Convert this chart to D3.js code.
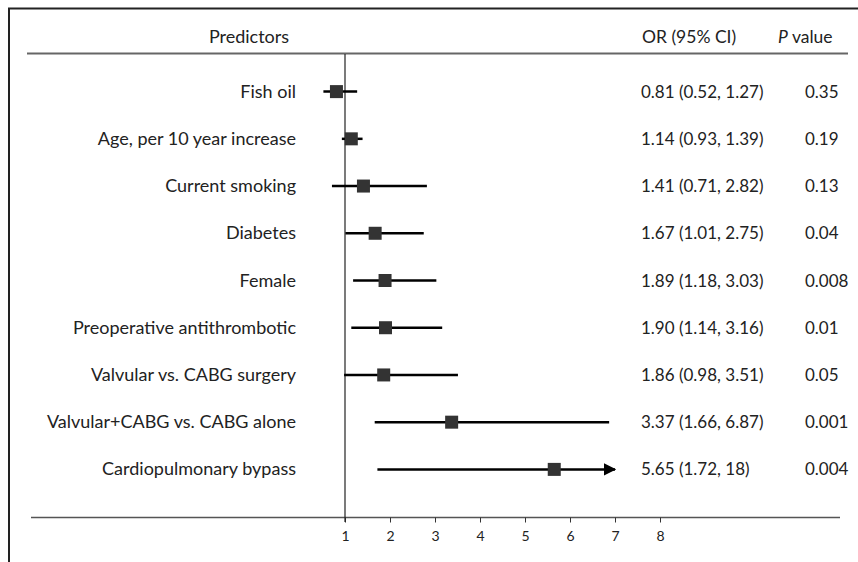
<!DOCTYPE html>
<html>
<head>
<meta charset="utf-8">
<script src="https://cdn.jsdelivr.net/npm/d3@7"></script>
<style>
  body { margin: 0; background: #fff; }
  text { font-family: Lato, "Open Sans", sans-serif; fill: #222; }
</style>
</head>
<body>
<script>
// data
var predictors = ["Fish oil", "Age, per 10 year increase", "Current smoking", "Diabetes", "Female",
  "Preoperative antithrombotic", "Valvular vs. CABG surgery", "Valvular+CABG vs. CABG alone", "Cardiopulmonary bypass"]
var orValues = [0.81, 1.14, 1.41, 1.67, 1.89, 1.90, 1.86, 3.37, 5.65]
var ciLow = [0.52, 0.93, 0.71, 1.01, 1.18, 1.14, 0.98, 1.66, 1.72]
var ciHigh = [1.27, 1.39, 2.82, 2.75, 3.03, 3.16, 3.51, 6.87, 18]
var ciLabels = ["0.81 (0.52, 1.27)", "1.14 (0.93, 1.39)", "1.41 (0.71, 2.82)", "1.67 (1.01, 2.75)",
  "1.89 (1.18, 3.03)", "1.90 (1.14, 3.16)", "1.86 (0.98, 3.51)", "3.37 (1.66, 6.87)", "5.65 (1.72, 18)"]
var pValues = ["0.35", "0.19", "0.13", "0.04", "0.008", "0.01", "0.05", "0.001", "0.004"]
var ticks = [1, 2, 3, 4, 5, 6, 7, 8]

var width = 858, height = 562
var svg = d3.select("body").append("svg")
  .attr("width", width)
  .attr("height", height)

var defs = svg.append("defs")
defs.append("marker")
  .attr("id", "arrow")
  .attr("viewBox", "0 0 10 10")
  .attr("refX", 9).attr("refY", 5)
  .attr("markerWidth", 5).attr("markerHeight", 5)
  .attr("markerUnits", "strokeWidth")
  .attr("orient", "auto")
  .append("path")
  .attr("d", "M0,0L10,5L0,10Z")
  .style("fill", "#000")

var x = d3.scaleLinear().domain([1, 8]).range([345, 660])
var y = d3.scaleBand().domain(d3.range(predictors.length)).range([68, 493])
var rowY = function(i) { return y(i) + y.bandwidth() / 2 }

// frame
svg.append("line").attr("x1", 8).attr("x2", width).attr("y1", 8.5).attr("y2", 8.5)
  .style("stroke", "#222").style("stroke-width", 2)
svg.append("line").attr("x1", 9).attr("x2", 9).attr("y1", 8).attr("y2", height)
  .style("stroke", "#222").style("stroke-width", 2)

// header
svg.append("text").attr("x", 249).attr("y", 43).attr("text-anchor", "middle")
  .style("font-size", "18px").text("Predictors")
svg.append("text").attr("x", 642).attr("y", 43)
  .style("font-size", "17.5px").text("OR (95% CI)")
var pv = svg.append("text").attr("x", 778).attr("y", 43).style("font-size", "17.5px")
pv.append("tspan").style("font-style", "italic").text("P")
pv.append("tspan").text(" value")

svg.append("line").attr("x1", 27).attr("x2", 848).attr("y1", 53.5).attr("y2", 53.5)
  .style("stroke", "#666").style("stroke-width", 2)

// bottom axis
svg.append("line").attr("x1", 31).attr("x2", 840).attr("y1", 517.5).attr("y2", 517.5)
  .style("stroke", "#555").style("stroke-width", 1.5)

var axis = svg.append("g")
  .attr("transform", "translate(0,517.5)")
  .call(d3.axisBottom(x).tickValues(ticks).tickSize(5).tickPadding(9).tickFormat(d3.format("d")))
axis.attr("font-size", 14).attr("font-family", "Lato, sans-serif")
axis.select(".domain").remove()
axis.selectAll(".tick line").attr("stroke", "#333")
axis.selectAll(".tick text").attr("fill", "#222")

// line of no effect
svg.append("line").attr("x1", x(1)).attr("x2", x(1)).attr("y1", 54).attr("y2", 522)
  .style("stroke", "#222").style("stroke-width", 1.2)

// rows
var rows = svg.selectAll(".row")
  .data(predictors)
  .enter().append("g")
  .attr("class", "row")

rows.append("text")
  .attr("x", 296)
  .attr("y", function(d, i) { return rowY(i) + 6 })
  .attr("text-anchor", "end")
  .style("font-size", "18px")
  .text(function(d) { return d })

rows.append("line")
  .attr("x1", function(d, i) { return x(ciLow[i]) })
  .attr("x2", function(d, i) { return x(Math.min(ciHigh[i], 7)) })
  .attr("y1", function(d, i) { return rowY(i) })
  .attr("y2", function(d, i) { return rowY(i) })
  .attr("marker-end", function(d, i) { return ciHigh[i] > 8 ? "url(#arrow)" : null })
  .style("stroke", "#000")
  .style("stroke-width", 2.5)

rows.append("rect")
  .attr("x", function(d, i) { return x(orValues[i]) - 6.5 })
  .attr("y", function(d, i) { return rowY(i) - 6.5 })
  .attr("width", 13)
  .attr("height", 13)
  .style("fill", "#333")

rows.append("text")
  .attr("x", 641)
  .attr("y", function(d, i) { return rowY(i) + 6 })
  .style("font-size", "17px")
  .text(function(d, i) { return ciLabels[i] })

rows.append("text")
  .attr("x", 805)
  .attr("y", function(d, i) { return rowY(i) + 6 })
  .style("font-size", "17px")
  .text(function(d, i) { return pValues[i] })
</script>
</body>
</html>
